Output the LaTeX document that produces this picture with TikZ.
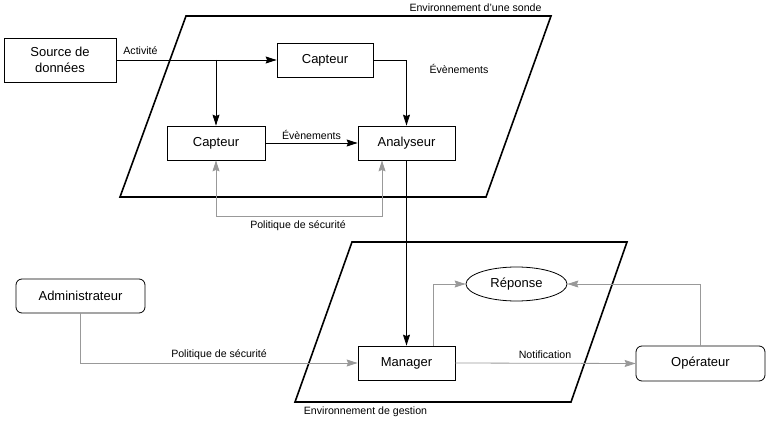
\documentclass[tikz,border=0pt]{standalone}
\usepackage{fontspec}
\setmainfont{Liberation Sans}
\usetikzlibrary{arrows.meta,shapes.geometric}
\definecolor{linegray}{HTML}{999999}
\tikzset{
  box/.style={draw=black, line width=0.8pt, rectangle, inner sep=0pt, font=\fontsize{13}{15.5}\selectfont, align=center},
  rbox/.style={box, rounded corners=6pt},
  oval/.style={draw=black, line width=0.8pt, ellipse, inner sep=0pt, font=\fontsize{13}{15.5}\selectfont},
  lbl/.style={inner sep=0pt, font=\fontsize{10.6}{12}\selectfont},
  blkarrow/.style={draw=black, line width=0.8pt, -{Stealth[length=11pt,width=7pt,inset=1.5pt]}},
  grayarrow/.style={draw=linegray, line width=0.8pt, -{Stealth[length=11pt,width=7pt,inset=1.5pt]}},
  graydouble/.style={draw=linegray, line width=0.8pt, {Stealth[length=11pt,width=7pt,inset=1.5pt]}-{Stealth[length=11pt,width=7pt,inset=1.5pt]}},
  envframe/.style={draw=black, line width=1.6pt}
}
\begin{document}
\begin{tikzpicture}[x=1pt,y=-1pt]
\useasboundingbox (0,0) rectangle (769,425);
% environments
\draw[envframe] (186,16) -- (551,16) -- (486,197) -- (120,197) -- cycle;
\draw[envframe] (352,242) -- (627,242) -- (571,402) -- (295,402) -- cycle;
\node[lbl] (envS) at (475.5,8) {Environnement d'une sonde};
\node[lbl] (envG) at (365.5,412) {Environnement de gestion};
% nodes
\node[box, minimum width=112pt, minimum height=44pt] (src) at (60,60) {Source de\\données};
\node[box, minimum width=96pt, minimum height=34pt] (cap1) at (325,60) {Capteur};
\node[box, minimum width=98pt, minimum height=34pt] (cap2) at (216,143) {Capteur};
\node[box, minimum width=97pt, minimum height=34pt] (ana) at (406.5,143) {Analyseur};
\node[box, minimum width=97pt, minimum height=34pt] (mgr) at (406.5,363) {Manager};
\node[oval, minimum width=101pt, minimum height=34pt] (rep) at (516.5,284) {Réponse};
\node[rbox, minimum width=129pt, minimum height=35pt] (op) at (700.5,363.5) {Opérateur};
\node[rbox, minimum width=129pt, minimum height=34pt] (adm) at (80.5,296) {Administrateur};
% connectors
\coordinate (br) at (216,60);
\draw[blkarrow] (src.east) -- (cap1.west);
\node[lbl] (actl) at (140.5,51) {Activité};
\draw[blkarrow] (br) -- (cap2.north);
\draw[blkarrow] (cap1.east) -| (ana.north);
\node[lbl] (ev1) at (459,69) {Évènements};
\draw[blkarrow] (cap2.east) -- (ana.west);
\node[lbl] (ev2) at (311.5,135) {Évènements};
\coordinate (p1) at (216,216);
\coordinate (p2) at (382,216);
\draw[graydouble] (cap2.south) -- (p1) -- (p2) -- (p2 |- ana.south);
\node[lbl] (pol1) at (298,226) {Politique de sécurité};
\draw[blkarrow] (ana.south) -- (mgr.north);
\draw[grayarrow] ([xshift=26.5pt]mgr.north) |- (rep.west);
\draw[grayarrow] (op.north) |- (rep.east);
\draw[grayarrow] (mgr.east) -- (op.west);
\node[lbl] (notif) at (545,355) {Notification};
\draw[grayarrow] (adm.south) |- (mgr.west);
\node[lbl] (pol2) at (219,355) {Politique de sécurité};
\end{tikzpicture}
\end{document}
